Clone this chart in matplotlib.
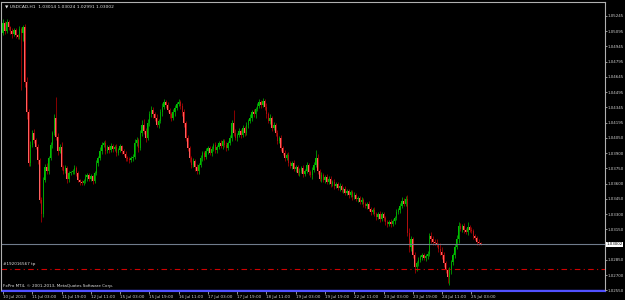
import numpy as np
import matplotlib
matplotlib.use("Agg")
import matplotlib.pyplot as plt
from matplotlib.transforms import blended_transform_factory

# USDCAD H1 candles, closes (open = previous close)
first_open = 1.0508
closes = [
    1.0518, 1.0510, 1.0519, 1.0514, 1.0510, 1.0507, 1.0511, 1.0506, 1.0504, 1.0512,
    1.0508, 1.0514, 1.0460, 1.0430, 1.0380, 1.0398, 1.0410, 1.0403, 1.0396, 1.0383,
    1.0344, 1.0330, 1.0364, 1.0376, 1.0372, 1.0385, 1.0398, 1.0410, 1.0425, 1.0406,
    1.0392, 1.0396, 1.0376, 1.0372, 1.0375, 1.0365, 1.0370, 1.0371, 1.0372, 1.0375,
    1.0370, 1.0364, 1.0362, 1.0361, 1.0363, 1.0366, 1.0368, 1.0365, 1.0367, 1.0363,
    1.0370, 1.0380, 1.0385, 1.0392, 1.0398, 1.0400, 1.0392, 1.0396, 1.0393, 1.0397,
    1.0394, 1.0396, 1.0390, 1.0393, 1.0397, 1.0392, 1.0389, 1.0385, 1.0384, 1.0383,
    1.0385, 1.0386, 1.0400, 1.0403, 1.0395, 1.0410, 1.0418, 1.0412, 1.0405, 1.0420,
    1.0428, 1.0432, 1.0428, 1.0425, 1.0418, 1.0422, 1.0430, 1.0435, 1.0440, 1.0437,
    1.0432, 1.0428, 1.0425, 1.0430, 1.0434, 1.0438, 1.0440, 1.0436, 1.0430, 1.0420,
    1.0405, 1.0395, 1.0385, 1.0378, 1.0382, 1.0376, 1.0372, 1.0378, 1.0385, 1.0390,
    1.0386, 1.0392, 1.0395, 1.0390, 1.0394, 1.0398, 1.0393, 1.0396, 1.0400, 1.0397,
    1.0402, 1.0398, 1.0395, 1.0400, 1.0405, 1.0420, 1.0410, 1.0405, 1.0408, 1.0412,
    1.0408, 1.0415, 1.0410, 1.0418, 1.0422, 1.0425, 1.0430, 1.0428, 1.0433, 1.0436,
    1.0440, 1.0437, 1.0441, 1.0435, 1.0428, 1.0422, 1.0425, 1.0415, 1.0418, 1.0410,
    1.0402, 1.0405, 1.0395, 1.0390, 1.0385, 1.0388, 1.0380, 1.0377, 1.0380, 1.0374,
    1.0376, 1.0370, 1.0372, 1.0375, 1.0369, 1.0372, 1.0378, 1.0371, 1.0368, 1.0373,
    1.0378, 1.0385, 1.0372, 1.0365, 1.0368, 1.0364, 1.0366, 1.0362, 1.0365, 1.0360,
    1.0362, 1.0358, 1.0360, 1.0356, 1.0358, 1.0354, 1.0355, 1.0351, 1.0353, 1.0349,
    1.0352, 1.0347, 1.0349, 1.0345, 1.0346, 1.0342, 1.0344, 1.0340, 1.0338, 1.0340,
    1.0335, 1.0332, 1.0334, 1.0330, 1.0327, 1.0330, 1.0325, 1.0330, 1.0326, 1.0322,
    1.0320, 1.0322, 1.0320, 1.0323, 1.0326, 1.0332, 1.0334, 1.0338, 1.0343, 1.0340,
    1.0345, 1.0311, 1.0298, 1.0305, 1.0290, 1.0278, 1.0282, 1.0285, 1.0288, 1.0290,
    1.0287, 1.0289, 1.0291, 1.0308, 1.0305, 1.0303, 1.0302, 1.0300, 1.0296, 1.0293,
    1.0290, 1.0282, 1.0275, 1.0268, 1.0275, 1.0283, 1.0290, 1.0298, 1.0305, 1.0318,
    1.0315, 1.0318, 1.0314, 1.0312, 1.0317, 1.0314, 1.0313, 1.0308, 1.0306, 1.0303,
    1.03014, 1.03002,
]
# wick lengths in pips above / below the body
hi_wick = [
    4, 2, 3, 2, 1, 3, 2, 2, 1, 3,   2, 2, 3, 5, 3, 4, 3, 4, 2, 3,
    2, 3, 2, 3, 4, 2, 3, 2, 3, 20,  4, 3, 5, 2, 3, 2, 2, 1, 2, 3,
    2, 2, 1, 2, 2, 3, 2, 2, 2, 1,   2, 3, 2, 4, 3, 2, 3, 2, 2, 3,
    2, 2, 3, 2, 2, 1, 2, 3, 2, 2,   2, 3, 4, 3, 2, 3, 5, 6, 3, 4,
    3, 4, 3, 2, 3, 2, 3, 4, 3, 2,   3, 2, 2, 3, 3, 2, 3, 2, 3, 3,
    2, 3, 2, 2, 3, 2, 3, 2, 3, 2,   2, 3, 2, 2, 3, 2, 3, 2, 2, 3,
    2, 2, 3, 2, 3, 3, 12, 4, 2, 3,  2, 3, 2, 3, 2, 3, 2, 3, 2, 3,
    3, 2, 3, 2, 4, 2, 3, 2, 3, 2,   3, 2, 3, 2, 3, 2, 3, 2, 2, 3,
    2, 2, 3, 2, 3, 2, 3, 2, 2, 3,   3, 8, 4, 2, 3, 2, 2, 3, 2, 2,
    2, 3, 2, 2, 3, 2, 2, 3, 2, 2,   2, 2, 3, 2, 2, 2, 3, 2, 2, 2,
    3, 2, 2, 3, 2, 2, 3, 2, 2, 2,   2, 2, 3, 2, 2, 3, 2, 3, 4, 3,
    3, 4, 5, 3, 2, 3, 2, 3, 2, 2,   2, 2, 3, 3, 4, 3, 2, 3, 2, 6,
    5, 3, 2, 2, 3, 2, 2, 3, 4, 4,   3, 2, 3, 2, 5, 2, 3, 2, 2, 2,
    2, 1,
]
lo_wick = [
    2, 3, 2, 3, 3, 4, 2, 3, 2, 2,   56, 8, 5, 6, 3, 3, 2, 3, 2, 4,
    3, 8, 3, 2, 3, 3, 2, 3, 2, 3,   4, 2, 3, 3, 2, 4, 3, 2, 2, 3,
    3, 2, 3, 2, 2, 2, 3, 2, 2, 3,   2, 2, 3, 2, 3, 2, 3, 2, 3, 2,
    3, 2, 3, 2, 2, 3, 2, 3, 2, 3,   2, 3, 2, 3, 4, 2, 3, 3, 4, 2,
    3, 2, 3, 3, 2, 3, 2, 3, 2, 3,   2, 3, 3, 2, 3, 2, 2, 3, 3, 4,
    3, 3, 4, 3, 2, 4, 3, 3, 2, 3,   3, 2, 3, 2, 3, 2, 3, 3, 2, 2,
    3, 2, 3, 2, 2, 3, 3, 2, 3, 2,   3, 2, 3, 2, 3, 2, 3, 2, 3, 2,
    2, 3, 2, 3, 3, 2, 3, 3, 2, 3,   3, 2, 3, 2, 3, 2, 3, 2, 3, 2,
    3, 2, 3, 2, 3, 2, 2, 3, 2, 3,   2, 2, 3, 2, 3, 2, 3, 2, 2, 3,
    2, 3, 2, 2, 3, 2, 3, 2, 2, 3,   2, 3, 2, 2, 3, 2, 2, 3, 2, 3,
    2, 3, 2, 2, 3, 2, 3, 2, 3, 3,   3, 2, 3, 2, 3, 2, 2, 3, 2, 2,
    2, 3, 5, 4, 3, 6, 4, 3, 2, 3,   2, 3, 3, 2, 3, 3, 2, 2, 3, 3,
    4, 4, 3, 6, 8, 4, 3, 3, 2, 3,   2, 3, 3, 2, 3, 2, 2, 3, 2, 3,
    2, 1,
]

price_ticks = [1.0255, 1.0270, 1.0285, 1.0315, 1.0330, 1.0345, 1.0360, 1.0375,
               1.0390, 1.0405, 1.0420, 1.0435, 1.0450, 1.0465, 1.0480, 1.0495,
               1.0510, 1.0525]
price_labels = ["1.02550", "1.02700", "1.02850", "1.03150", "1.03300", "1.03450",
                "1.03600", "1.03750", "1.03900", "1.04050", "1.04195", "1.04345",
                "1.04495", "1.04645", "1.04795", "1.04945", "1.05095", "1.05245"]
time_bars = [0, 16, 32, 48, 64, 80, 96, 112, 128, 144, 160, 176, 192, 208, 224, 240, 256]
time_labels = ["10 Jul 2013", "11 Jul 03:00", "11 Jul 19:00", "12 Jul 11:00",
               "15 Jul 03:00", "15 Jul 19:00", "16 Jul 11:00", "17 Jul 03:00",
               "17 Jul 19:00", "18 Jul 11:00", "19 Jul 03:00", "19 Jul 19:00",
               "22 Jul 11:00", "23 Jul 03:00", "23 Jul 19:00", "24 Jul 11:00",
               "25 Jul 03:00"]
bid = 1.03002
order_level = 1.0276
bottom_level = 1.02553

pip = 0.0001
c = np.array(closes)
o = np.concatenate([[first_open], c[:-1]])
hi = np.maximum(o, c) + np.array(hi_wick) * pip
lo = np.minimum(o, c) - np.array(lo_wick) * pip
x = np.arange(len(c))
up = c >= o

fig = plt.figure(figsize=(6.25, 3.0), dpi=100, facecolor="black")
ax = fig.add_axes([1 / 625, 9 / 300, 604 / 625, 289 / 300], facecolor="black")

ax.vlines(x[up], lo[up], hi[up], color="#00a000", lw=0.6)
ax.vlines(x[~up], lo[~up], hi[~up], color="#a00000", lw=0.6)
body = np.maximum(np.abs(c - o), 0.00004)
ax.bar(x[up], body[up], bottom=o[up], width=0.75, color="#00c000", lw=0)
ax.bar(x[~up], body[~up], bottom=c[~up], width=0.75, color="#ff6060", lw=0)

ax.axhline(bid, color="#707c8c", lw=0.8)
ax.axhline(order_level, color="#d00000", lw=0.8, ls=(0, (5, 3, 1, 3)))
ax.axhline(bottom_level, color="#5050ff", lw=1.0)

ax.set_xlim(-1.1, 329)
ax.set_ylim(1.02543, 1.05387)

ax.yaxis.tick_right()
ax.set_yticks(price_ticks)
ax.set_yticklabels(price_labels)
ax.set_xticks(time_bars)
ax.set_xticklabels(time_labels, ha="left")
ax.tick_params(axis="y", colors="#d0d0d0", labelsize=2.9, length=1.2, width=0.5, pad=0.4)
ax.tick_params(axis="x", colors="#d0d0d0", labelsize=3.0, length=2, width=0.5, pad=0.8)

for side in ["left", "top", "right"]:
    ax.spines[side].set_color("#b0b0b0")
    ax.spines[side].set_linewidth(0.8)
ax.spines["bottom"].set_color("#5050ff")

trans = blended_transform_factory(ax.transAxes, ax.transData)
ax.text(1.003, bid, "1.03002", transform=trans, fontsize=2.9, color="black",
        va="center", ha="left",
        bbox=dict(facecolor="white", edgecolor="none", pad=0.3))
ax.text(0.004, order_level + 0.0003, "#192016567 tp", transform=trans,
        fontsize=3.0, color="#e0e0e0", va="bottom", ha="left")

ax.text(0.006, 0.992, "\u25bc USDCAD,H1  1.03014 1.03024 1.02991 1.03002",
        transform=ax.transAxes, fontsize=3.2, color="#e0e0e0", va="top", ha="left")
ax.text(0.004, 0.012, "FxPro MT4, \u00a9 2001-2013, MetaQuotes Software Corp.",
        transform=ax.transAxes, fontsize=3.0, color="#e0e0e0", va="bottom", ha="left")

fig.savefig("out.png", dpi=100, facecolor="black")
